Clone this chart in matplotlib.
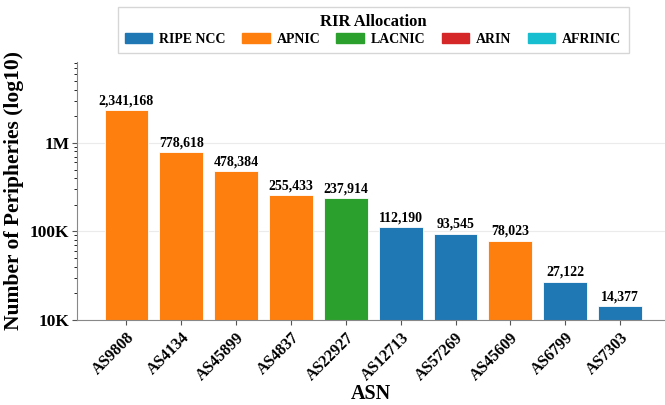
import matplotlib

matplotlib.use("Agg")
import matplotlib.pyplot as plt
from matplotlib.patches import Patch
from matplotlib.ticker import FuncFormatter

asns = ["AS9808", "AS4134", "AS45899", "AS4837", "AS22927",
        "AS12713", "AS57269", "AS45609", "AS6799", "AS7303"]
peripheries = [2341168, 778618, 478384, 255433, 237914,
               112190, 93545, 78023, 27122, 14377]
rirs = ["APNIC", "APNIC", "APNIC", "APNIC", "LACNIC",
        "RIPE NCC", "RIPE NCC", "APNIC", "RIPE NCC", "RIPE NCC"]

rir_order = ["RIPE NCC", "APNIC", "LACNIC", "ARIN", "AFRINIC"]
rir_colors = {
    "RIPE NCC": "#1f77b4",
    "APNIC": "#ff7f0e",
    "LACNIC": "#2ca02c",
    "ARIN": "#d62728",
    "AFRINIC": "#17becf",
}

plt.rcParams["font.family"] = ["Liberation Serif", "DejaVu Serif"]
plt.rcParams["font.weight"] = "bold"

fig = plt.figure(figsize=(6.65, 4.05), dpi=100)
ax = fig.add_axes([0.116, 0.21, 0.884, 0.637])

x = list(range(len(asns)))
bars = ax.bar(x, peripheries, width=0.8, color=[rir_colors[r] for r in rirs],
              edgecolor="white", linewidth=0.6)
ax.set_yscale("log")
ax.set_ylim(10000, max(peripheries) * 3.5)
ax.set_xlim(-0.9, 9.82)

# value labels on top of bars
for bar, value in zip(bars, peripheries):
    ax.text(bar.get_x() + bar.get_width() / 2, value * 1.08, f"{value:,}",
            ha="center", va="bottom", fontsize=10, fontweight="bold")


def fmt(v, pos):
    if v >= 1e6:
        return f"{v / 1e6:g}M"
    if v >= 1e3:
        return f"{v / 1e3:g}K"
    return f"{v:g}"


ax.yaxis.set_major_formatter(FuncFormatter(fmt))
ax.set_xticks(x)
ax.set_xticklabels(asns, rotation=45, ha="right", rotation_mode="anchor",
                   fontsize=11.5, fontweight="bold")
for lab in ax.get_yticklabels():
    lab.set_fontsize(12.5)
    lab.set_fontweight("bold")

ax.grid(axis="y", which="major", color="#ebebeb", linewidth=0.8)
ax.set_axisbelow(True)
for s in ["top", "right"]:
    ax.spines[s].set_visible(False)
for s in ["left", "bottom"]:
    ax.spines[s].set_color("#888888")
ax.tick_params(axis="both", colors="#555555", labelcolor="black")
ax.tick_params(axis="y", which="major", pad=2)

ax.set_xlabel("ASN", fontsize=14.5, fontweight="bold", labelpad=0)
ax.set_ylabel("Number of Peripheries (log10)", fontsize=15.5, fontweight="bold",
              labelpad=4)

handles = [Patch(color=rir_colors[r], label=r) for r in rir_order]
leg = fig.legend(handles=handles, title="RIR Allocation", ncol=5,
                 loc="upper center", bbox_to_anchor=(0.561, 0.99),
                 prop={"size": 10, "weight": "bold"},
                 title_fontproperties={"size": 12, "weight": "bold"},
                 fancybox=False, edgecolor="#cccccc", handlelength=2.0,
                 columnspacing=1.15, borderpad=0.5, handletextpad=0.5,
                 labelspacing=0.2)
leg.set_bbox_to_anchor((0.561, 1.0), transform=fig.transFigure)

fig.savefig("out.png", dpi=100)
